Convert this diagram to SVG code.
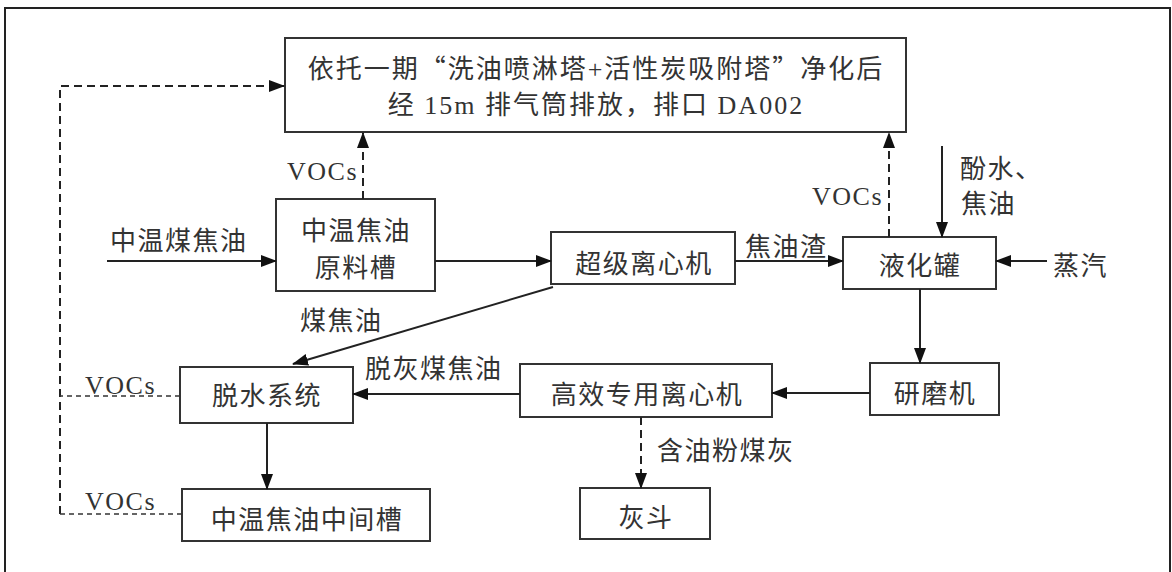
<svg xmlns="http://www.w3.org/2000/svg" width="1172" height="572" viewBox="0 0 1172 572">
<style>
.box{fill:#fff;stroke:#333;stroke-width:2}
.t{font-family:"Liberation Serif","Noto Sans CJK SC",serif;font-size:26px;fill:#333;letter-spacing:1.5px}
.q{font-family:"Noto Sans CJK SC",sans-serif}
.c{text-anchor:middle}
.ln{fill:none;stroke:#222;stroke-width:2}
.ds{fill:none;stroke:#222;stroke-width:2;stroke-dasharray:8 5}
.dt{fill:none;stroke:#333;stroke-width:1.6;stroke-dasharray:5 4}
</style>
<defs>
<marker id="ah" markerWidth="16" markerHeight="12" refX="15" refY="6" orient="auto" markerUnits="userSpaceOnUse">
<path d="M0,0 L16,6 L0,12 Z" fill="#111"/>
</marker>
</defs>
<rect x="5" y="8" width="1165" height="580" fill="#fff" stroke="#222" stroke-width="2"/>

<g id="top">
<rect class="box" x="285" y="38" width="621" height="94"/>
<text class="t c" x="596" y="78" style="letter-spacing:2px">依托一期<tspan class="q">“</tspan>洗油喷淋塔+活性炭吸附塔<tspan class="q">”</tspan>净化后</text>
<text class="t c" x="596" y="114" style="letter-spacing:2px">经 15m 排气筒排放，排口 DA002</text>
</g>
<g id="raw">
<rect class="box" x="276" y="199" width="159" height="92"/>
<text class="t c" x="356" y="240">中温焦油</text>
<text class="t c" x="356" y="277">原料槽</text>
</g>
<g id="super">
<rect class="box" x="551" y="232" width="184" height="52"/>
<text class="t c" x="644" y="273">超级离心机</text>
</g>
<g id="liq">
<rect class="box" x="843" y="237" width="153" height="52"/>
<text class="t c" x="920" y="275">液化罐</text>
</g>
<g id="grind">
<rect class="box" x="870" y="363" width="129" height="52"/>
<text class="t c" x="935" y="403">研磨机</text>
</g>
<g id="hecent">
<rect class="box" x="520" y="364" width="252" height="53"/>
<text class="t c" x="647" y="404">高效专用离心机</text>
</g>
<g id="dewater">
<rect class="box" x="180" y="367" width="173" height="56"/>
<text class="t c" x="267" y="405">脱水系统</text>
</g>
<g id="mid">
<rect class="box" x="182" y="489" width="248" height="52"/>
<text class="t c" x="307" y="529">中温焦油中间槽</text>
</g>
<g id="ash">
<rect class="box" x="580" y="488" width="130" height="51"/>
<text class="t c" x="646" y="527">灰斗</text>
</g>

<g id="connectors">
<path class="ds" d="M60,514 L60,86 L284,86" marker-end="url(#ah)"/>
<path class="dt" d="M180,396 L60,396"/>
<path class="dt" d="M182,514 L60,514"/>
<path class="ds" d="M363,199 L363,133" marker-end="url(#ah)"/>
<path class="ds" d="M889,237 L889,133" marker-end="url(#ah)"/>
<path class="ln" d="M107,261 L276,261" marker-end="url(#ah)"/>
<path class="ln" d="M435,261 L551,261" marker-end="url(#ah)"/>
<path class="ln" d="M735,261 L843,261" marker-end="url(#ah)"/>
<path class="ln" d="M942,146 L942,237" marker-end="url(#ah)"/>
<path class="ln" d="M1047,261 L996,261" marker-end="url(#ah)"/>
<path class="ln" d="M553,287 L293,364" marker-end="url(#ah)"/>
<path class="ln" d="M920,289 L920,363" marker-end="url(#ah)"/>
<path class="ln" d="M870,393 L772,393" marker-end="url(#ah)"/>
<path class="ln" d="M520,394 L353,394" marker-end="url(#ah)"/>
<path class="ln" d="M267,423 L267,489" marker-end="url(#ah)"/>
<path class="ds" d="M641,417 L641,488" marker-end="url(#ah)"/>
<text class="t" x="287" y="180">VOCs</text>
<text class="t" x="812" y="205">VOCs</text>
<text class="t" x="85" y="394">VOCs</text>
<text class="t" x="85" y="510">VOCs</text>
<text class="t" x="110" y="250">中温煤焦油</text>
<text class="t" x="300" y="330">煤焦油</text>
<text class="t" x="745" y="256">焦油渣</text>
<text class="t" x="960" y="178">酚水、</text>
<text class="t" x="961" y="213">焦油</text>
<text class="t" x="1053" y="275">蒸汽</text>
<text class="t" x="365" y="378">脱灰煤焦油</text>
<text class="t" x="657" y="460">含油粉煤灰</text>
</g>
</svg>
